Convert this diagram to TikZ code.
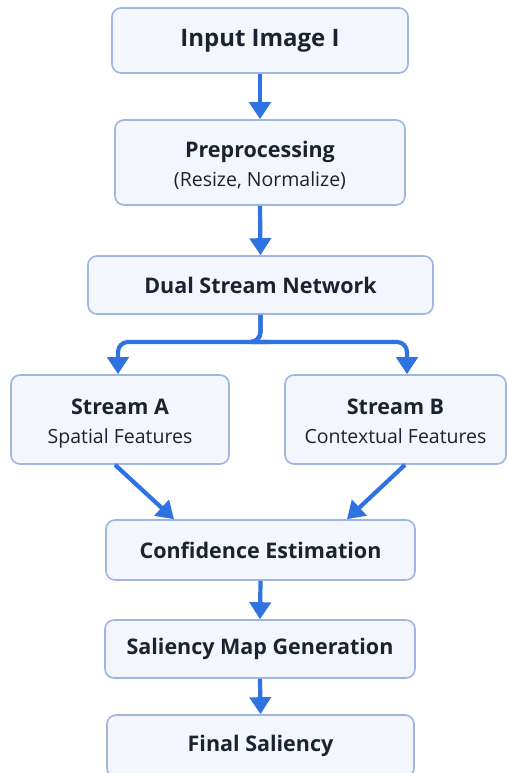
\documentclass[tikz,border=0pt]{standalone}
\usepackage{fontspec}
\setmainfont{Open Sans}
\usetikzlibrary{arrows.meta}
\definecolor{boxfill}{HTML}{F3F6FC}
\definecolor{boxdraw}{HTML}{9DB6E2}
\definecolor{arrowblue}{HTML}{2F72E2}
\definecolor{txt}{HTML}{1C2230}
\newcommand{\ttlfont}{\fontsize{21.5}{26}\selectfont\bfseries}
\newcommand{\subfont}{\fontsize{19.5}{24}\selectfont}
\newcommand{\topstrut}{\rule{0pt}{24.5pt}}
\newcommand{\botstrut}{\rule[-6pt]{0pt}{6pt}}
\tikzset{
  fbox/.style={draw=boxdraw, fill=boxfill, line width=1.6pt, rounded corners=9pt, text=txt, align=center, inner sep=0pt},
  twoline/.style={font=\fontsize{19.5}{29.5}\selectfont},
  arr/.style={draw=arrowblue, line width=4.2pt, -{Triangle[width=21pt,length=17pt]}},
  ttl/.style={font=\ttlfont}
}
\begin{document}
\begin{tikzpicture}[x=1pt,y=-1pt]
\useasboundingbox (0,0) rectangle (507,773);
\clip (0,0) rectangle (507,773);
\fill[white] (0,0) rectangle (507,773);
\node[fbox, minimum width=296pt, minimum height=65pt, font=\fontsize{24}{28}\selectfont\bfseries] (inp) at (260,40.5) {Input Image I};
\node[fbox, minimum width=290pt, minimum height=85pt, twoline] (pre) at (260,162.5) {\topstrut{\ttlfont Preprocessing}\\{\subfont (Resize, Normalize)}\botstrut};
\node[fbox, minimum width=345pt, minimum height=58pt, ttl] (dual) at (260.5,285) {Dual Stream Network};
\node[fbox, minimum width=218pt, minimum height=89pt, twoline] (sa) at (120,419.5) {\topstrut{\ttlfont Stream A}\\{\subfont Spatial Features}\botstrut};
\node[fbox, minimum width=221pt, minimum height=89pt, twoline] (sb) at (395.5,419.5) {\topstrut{\ttlfont Stream B}\\{\subfont Contextual Features}\botstrut};
\node[fbox, minimum width=309pt, minimum height=60pt, ttl] (conf) at (260.5,550) {Confidence Estimation};
\node[fbox, minimum width=310pt, minimum height=58pt, ttl] (sal) at (260,649) {Saliency Map Generation};
\node[fbox, minimum width=307pt, minimum height=62pt, ttl] (fin) at (260.5,746) {Final Saliency};
\coordinate (aTop) at (118,0 |- sa.north);
\coordinate (bTop) at (407,0 |- sb.north);
\coordinate (aBot) at (115,0 |- sa.south);
\coordinate (bBot) at (405,0 |- sb.south);
\coordinate (cA) at (174,0 |- conf.north);
\coordinate (cB) at (347,0 |- conf.north);
\coordinate (split) at (260,342);
\draw[arr] (inp.south) -- (pre.north);
\draw[arr] (pre.south) -- (dual.north);
\draw[arr, rounded corners=10pt] (dual.south) |- (split) -| (aTop);
\draw[arr, rounded corners=10pt] (dual.south) |- (split) -| (bTop);
\draw[arr] (aBot) -- (cA);
\draw[arr] (bBot) -- (cB);
\draw[arr] (conf.south) -- (sal.north);
\draw[arr] (sal.south) -- (fin.north);
\end{tikzpicture}
\end{document}
